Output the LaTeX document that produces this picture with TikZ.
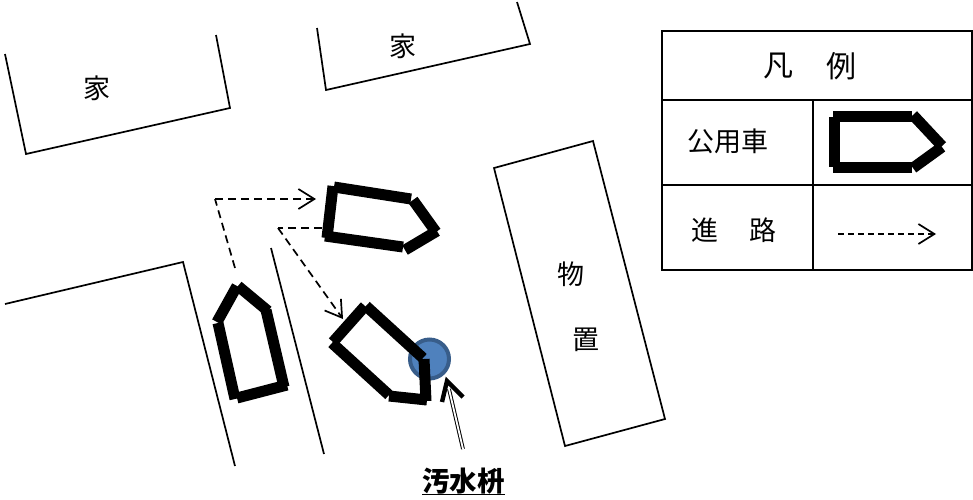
\documentclass[tikz,border=0pt]{standalone}
\usepackage{fontspec}
\setmainfont{Noto Sans CJK JP}
\usetikzlibrary{arrows.meta}
\definecolor{pitfill}{HTML}{4F81BD}
\definecolor{pitline}{HTML}{385D8A}
\tikzset{
  wall/.style={draw=black,line width=1.7pt},
  cell/.style={draw=black,line width=1.7pt},
  car/.style={draw=black,line width=11pt,line cap=butt},
  route/.style={draw=black,line width=1.7pt,dash pattern=on 8pt off 5pt},
  routetip/.style={-{Straight Barb[length=16pt,width=20pt,line width=1.7pt]}},
  lbl/.style={inner sep=0pt,font=\fontsize{27}{27}\selectfont},
  biglbl/.style={inner sep=0pt,font=\fontsize{30}{30}\selectfont},
}
\begin{document}
\begin{tikzpicture}[x=1pt,y=-1pt]
\useasboundingbox (0,0) rectangle (973,499);
\fill[white] (0,0) rectangle (973,499);
% houses, shed, road
\draw[wall] (5,54) -- (26,154) -- (230,108) -- (216,35);
\draw[wall] (317,28) -- (326,90) -- (530,44) -- (517,2);
\draw[wall] (494,168) -- (593,141) -- (665,419) -- (565,446) -- cycle;
\draw[wall] (5,304) -- (183,262) -- (235,466);
\draw[wall] (271,248) -- (324,454);
\node[lbl] (h1) at (97,88) {家};
\node[lbl] (h2) at (403,46) {家};
\node[lbl] (s1) at (571,274) {物};
\node[lbl] (s2) at (586,340) {置};
% routes
\coordinate (r1) at (235,268);
\coordinate (r2) at (215,199);
\coordinate (r3) at (316,199);
\coordinate (r4) at (322,228);
\coordinate (r5) at (278,228);
\coordinate (r6) at (343,319);
\draw[route] (r1) -- (r2);
\draw[route,routetip] (r2) -- (r3);
\draw[route] (r4) -- (r5);
\draw[route,routetip] (r5) -- (r6);
% pit
\node[circle,draw=pitline,fill=pitfill,line width=4pt,minimum size=39pt,inner sep=0pt] (pit) at (429.5,359) {};
% top car
\draw[car] (334,187) -- (411,199);
\draw[car] (413,200) -- (436,232);
\draw[car] (437,231) -- (405,250);
\draw[car] (403,247) -- (325,236);
\draw[car] (333,186) -- (327,238);
% left car
\draw[car] (237,286) -- (217,322);
\draw[car] (238,286) -- (268,311);
\draw[car] (266,310) -- (284,387);
\draw[car] (287,385) -- (237,398);
\draw[car] (218,323) -- (235,399);
% lower car
\draw[car] (365,306) -- (333,342);
\draw[car] (366,306) -- (423,358);
\draw[car] (424,359) -- (426,401);
\draw[car] (427,400) -- (389,396);
\draw[car] (389,395) -- (332,343);
% pit pointer
\coordinate (p0) at (463,449);
\coordinate (p1) at (449,389);
\coordinate (tip) at (447,381);
\draw[black,line width=1pt,double=white,double distance=1.8pt] (p0) -- (p1);
\draw[black,line width=4.4pt,line cap=butt,line join=miter] (442,402) -- (tip) -- (463,397);
\node[inner sep=0pt,font=\fontsize{27.5}{27.5}\selectfont\bfseries] (pitlabel) at (463.5,481) {汚水枡};
\draw[black,line width=1.6pt] (422,494.5) -- (505,494.5);
% legend
\draw[cell] (662,31) rectangle (972,270);
\draw[cell] (662,100) -- (972,100);
\draw[cell] (662,185) -- (972,185);
\draw[cell] (813,100) -- (813,270);
\node[biglbl] (l1) at (778,66) {凡};
\node[biglbl] (l2) at (841,66) {例};
\node[lbl] (l3) at (728,141) {公用車};
\node[lbl] (l4) at (705,230) {進};
\node[lbl] (l5) at (763,230) {路};
\draw[car] (833,116) -- (912,116);
\draw[car] (913,115) -- (942,146);
\draw[car] (942,147) -- (913,168);
\draw[car] (912,167) -- (833,167);
\draw[car] (834,117) -- (834,167);
\coordinate (k1) at (838,234);
\coordinate (k2) at (936,234);
\draw[route,dash pattern=on 6pt off 4pt,routetip] (k1) -- (k2);
\end{tikzpicture}
\end{document}
